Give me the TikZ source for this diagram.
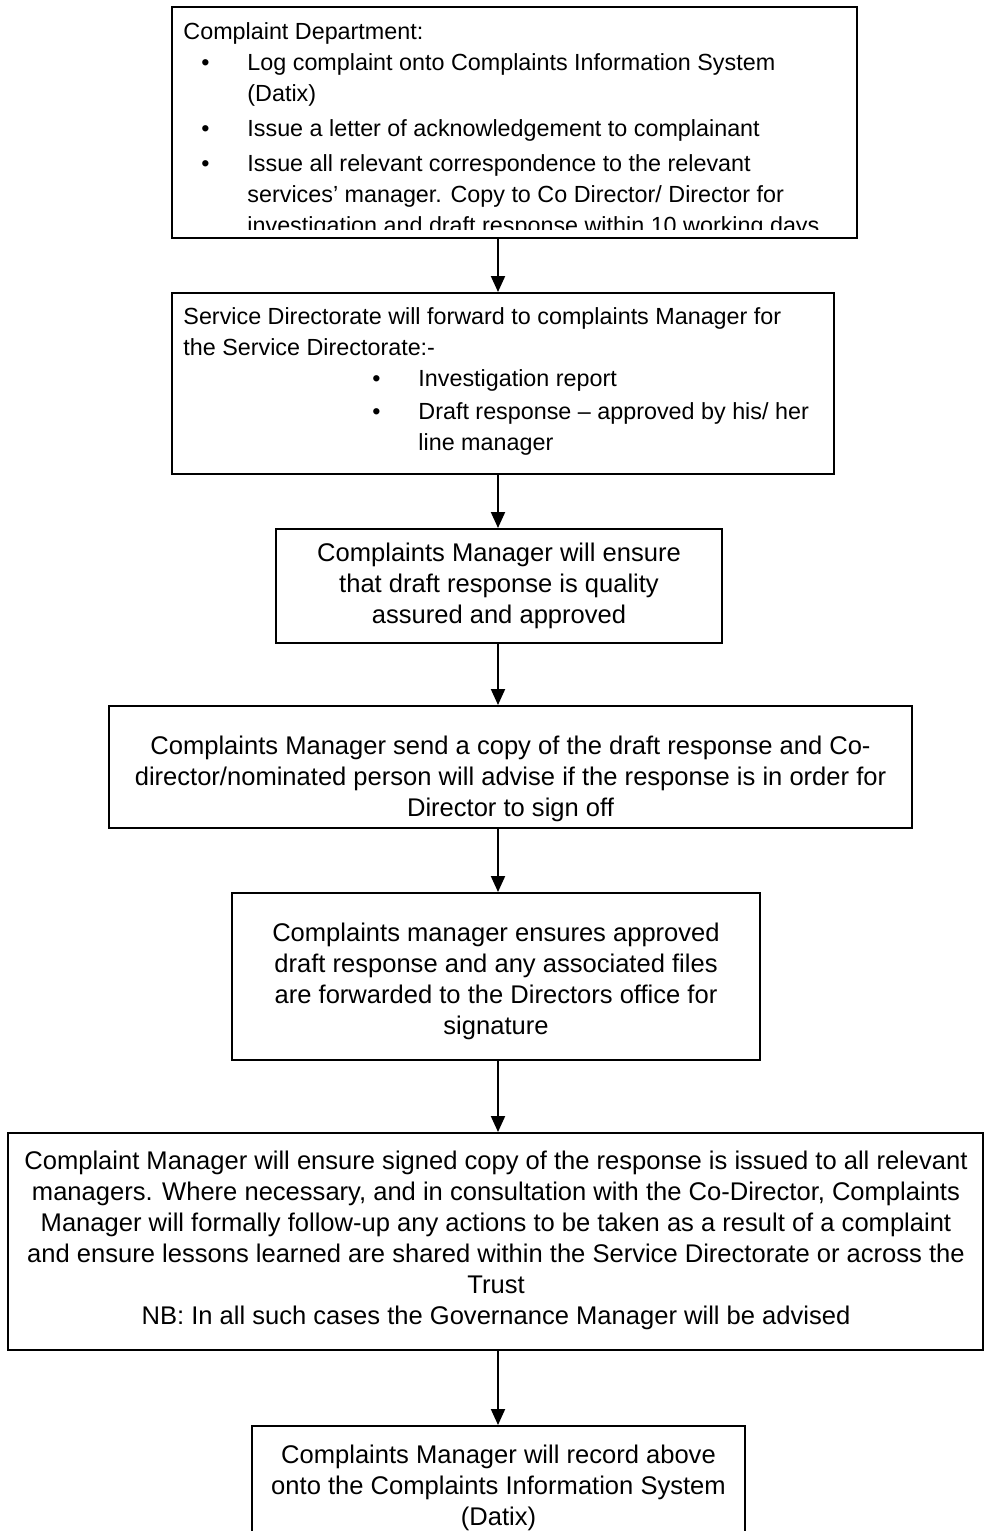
\documentclass[tikz,border=0pt]{standalone}
\usepackage{fontspec}
\setmainfont{Liberation Sans}
\usetikzlibrary{arrows.meta}

% one unit of the drawing grid
\newlength\pxu
\setlength\pxu{0.45pt}

% bullet item: #1 bullet offset, #2 text indent, #3 text
\newcommand\flowitem[3]{\par\hangindent=#2\hangafter=1\noindent
  \hbox to #2{\hspace*{#1}\textbullet\hfill}#3}

\tikzset{
  stepbox/.style={draw, line width=0.9pt, inner sep=0pt},
  flowtext/.style={inner sep=0pt, font=\fontsize{11.5}{13.95}\selectfont},
  listtext/.style={inner sep=0pt, font=\fontsize{10.5}{13.95}\selectfont},
  flowarrow/.style={line width=0.9pt, -{Triangle[length=7.2pt,width=6.3pt]}},
}

\begin{document}
\begin{tikzpicture}[x=0.45pt, y=-0.45pt]
\clip (0,0) rectangle (984,1531);
\fill[white] (0,0) rectangle (984,1531);

% boxes
\node[stepbox, minimum width=685\pxu, minimum height=231\pxu] (b1) at (514.5,122.5) {};
\node[stepbox, minimum width=662\pxu, minimum height=181\pxu] (b2) at (503,383.5) {};
\node[stepbox, minimum width=446\pxu, minimum height=114\pxu] (b3) at (499,586) {};
\node[stepbox, minimum width=803\pxu, minimum height=122\pxu] (b4) at (510.5,767) {};
\node[stepbox, minimum width=528\pxu, minimum height=167\pxu] (b5) at (496,976.5) {};
\node[stepbox, minimum width=975\pxu, minimum height=217\pxu] (b6) at (495.5,1241.5) {};
\node[stepbox, minimum width=493\pxu, minimum height=134\pxu] (b7) at (498.5,1493) {};

% texts
\begin{scope}
\clip (172,7) rectangle (857,229);
\node[listtext, anchor=north west] (t1) at (183,17.8) {%
  \begin{minipage}[t]{675\pxu}\raggedright
  \strut Complaint Department:%
  \flowitem{18\pxu}{64\pxu}{Log complaint onto Complaints Information System\newline(Datix)}\par\vspace{1.8pt}%
  \flowitem{18\pxu}{64\pxu}{Issue a letter of acknowledgement to complainant}\par\vspace{1.8pt}%
  \flowitem{18\pxu}{64\pxu}{Issue all relevant correspondence to the relevant\newline services’ manager. Copy to Co Director/ Director for\newline investigation and draft response within 10 working days}
  \end{minipage}};
\end{scope}

\node[listtext, anchor=north west] (t2) at (183,302.8) {%
  \begin{minipage}[t]{650\pxu}\raggedright
  \strut Service Directorate will forward to complaints Manager for\newline the Service Directorate:-%
  \flowitem{189\pxu}{235\pxu}{Investigation report}\par\vspace{0.6pt}%
  \flowitem{189\pxu}{235\pxu}{Draft response – approved by his/ her\newline line manager}
  \end{minipage}};

\node[flowtext, anchor=north, align=center] (t3) at (499,539.8) {%
  \strut Complaints Manager will ensure\\that draft response is quality\\assured and approved};

\node[flowtext, anchor=north, align=center] (t4) at (510.5,732.8) {%
  \strut Complaints Manager send a copy of the draft response and Co-\\director/nominated person will advise if the response is in order for\\Director to sign off};

\node[flowtext, anchor=north, align=center] (t5) at (496,919.8) {%
  \strut Complaints manager ensures approved\\draft response and any associated files\\are forwarded to the Directors office for\\signature};

\node[flowtext, anchor=north, align=center] (t6) at (496,1147.8) {%
  \strut Complaint Manager will ensure signed copy of the response is issued to all relevant\\managers. Where necessary, and in consultation with the Co-Director, Complaints\\Manager will formally follow-up any actions to be taken as a result of a complaint\\and ensure lessons learned are shared within the Service Directorate or across the\\Trust\\NB: In all such cases the Governance Manager will be advised};

\node[flowtext, anchor=north, align=center] (t7) at (498.5,1441.8) {%
  \strut Complaints Manager will record above\\onto the Complaints Information System\\(Datix)};

% connectors along the common axis
\coordinate (axis) at (498,0);
\draw[flowarrow] (b1.south -| axis) -- (b2.north -| axis);
\draw[flowarrow] (b2.south -| axis) -- (b3.north -| axis);
\draw[flowarrow] (b3.south -| axis) -- (b4.north -| axis);
\draw[flowarrow] (b4.south -| axis) -- (b5.north -| axis);
\draw[flowarrow] (b5.south -| axis) -- (b6.north -| axis);
\draw[flowarrow] (b6.south -| axis) -- (b7.north -| axis);
\end{tikzpicture}
\end{document}
